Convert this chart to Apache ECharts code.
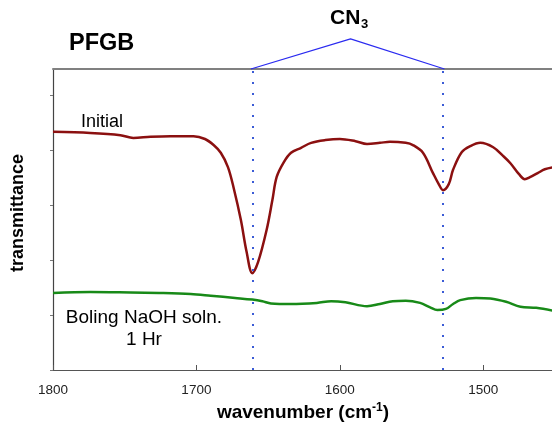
<!DOCTYPE html>
<html>
<head>
<meta charset="utf-8">
<script src="https://cdn.jsdelivr.net/npm/echarts@6/dist/echarts.min.js"></script>
<style>
  html, body { margin: 0; padding: 0; background: #fff; }
  #chart { width: 552px; height: 426px; }
</style>
</head>
<body>
<div id="chart"></div>
<script>
// IR spectra of PFGB, wavenumber (cm-1) vs transmittance (arbitrary offset units)
const wnInitial = [1800, 1774, 1753, 1744, 1732, 1718, 1702, 1694, 1688, 1683, 1678, 1674, 1669, 1665, 1661,
  1657, 1651, 1647, 1644, 1639, 1634, 1627, 1620, 1610, 1600, 1589, 1581, 1572, 1565, 1554, 1549, 1542,
  1535, 1531, 1528, 1524, 1521, 1515, 1509, 1502, 1493, 1486, 1481, 1475, 1471, 1467, 1462, 1457, 1450];
const tInitial = [4.33, 4.31, 4.27, 4.22, 4.24, 4.25, 4.25, 4.20, 4.09, 3.95, 3.69, 3.31, 2.73, 2.15, 1.76,
  1.96, 2.55, 3.09, 3.51, 3.78, 3.95, 4.04, 4.13, 4.18, 4.20, 4.16, 4.11, 4.13, 4.15, 4.13, 4.09, 3.95,
  3.58, 3.38, 3.27, 3.38, 3.64, 3.96, 4.07, 4.13, 4.05, 3.89, 3.76, 3.56, 3.47, 3.51, 3.58, 3.65, 3.69];

const wnBoiled = [1800, 1774, 1746, 1726, 1704, 1690, 1673, 1661, 1654, 1648, 1634, 1616, 1606, 1596, 1581,
  1572, 1563, 1554, 1544, 1537, 1532, 1526, 1521, 1516, 1505, 1495, 1484, 1474, 1463, 1450];
const tBoiled = [1.40, 1.42, 1.41, 1.40, 1.38, 1.35, 1.31, 1.28, 1.25, 1.21, 1.20, 1.22, 1.25, 1.23, 1.16,
  1.20, 1.25, 1.26, 1.22, 1.14, 1.09, 1.11, 1.20, 1.27, 1.31, 1.30, 1.24, 1.15, 1.13, 1.07];

// CN3 band positions and the bracket joining them above the frame
const cnBands = [1661, 1528];
const bracketWn = [1662, 1592.5, 1527];
const bracketT = [5.473, 6.02, 5.473];

// visible wavenumber window and labelled ticks
const wnRange = [1452, 1800];
const xTicks = [1800, 1700, 1600, 1500];
const yTicks = [0, 1, 2, 3, 4, 5];

const zip = (a, b) => a.map((v, i) => [v, b[i]]);

const chart = echarts.init(document.getElementById('chart'), null, { renderer: 'canvas' });

chart.setOption({
  backgroundColor: '#ffffff',
  animation: false,
  grid: { left: 53, right: 0, top: 69, bottom: 56, containLabel: false },
  xAxis: [
    {
      type: 'value', inverse: true, min: wnRange[0], max: wnRange[1],
      position: 'bottom',
      axisLine: { show: true, lineStyle: { color: '#555', width: 1.2 } },
      axisTick: { show: true, inside: true, length: 5, customValues: xTicks, lineStyle: { color: '#555' } },
      axisLabel: {
        color: '#222', fontSize: 13.5, fontFamily: 'Liberation Sans, Arial, sans-serif', margin: 13,
        customValues: xTicks, formatter: v => String(v)
      },
      splitLine: { show: false }
    },
    {
      type: 'value', inverse: true, min: wnRange[0], max: wnRange[1], position: 'top',
      axisLine: { show: true, lineStyle: { color: '#808080', width: 2 } },
      axisTick: { show: false }, axisLabel: { show: false }, splitLine: { show: false }
    }
  ],
  yAxis: {
    type: 'value', min: 0, max: 5.473,
    axisLine: { show: true, lineStyle: { color: '#444', width: 1.2 } },
    axisTick: { show: true, inside: false, length: 3, customValues: yTicks, lineStyle: { color: '#777' } },
    axisLabel: { show: false },
    splitLine: { show: false }
  },
  series: [
    {
      name: 'Initial', type: 'line', data: zip(wnInitial, tInitial), smooth: 0.35,
      showSymbol: false, lineStyle: { color: '#8b1010', width: 2.5 },
      markLine: {
        silent: true, symbol: ['none', 'none'], label: { show: false },
        lineStyle: { color: '#3b5bd6', type: [2, 9], width: 2 },
        data: cnBands.map(v => ({ xAxis: v }))
      }
    },
    {
      name: 'Boling NaOH soln. 1 Hr', type: 'line', data: zip(wnBoiled, tBoiled), smooth: 0.35,
      showSymbol: false, lineStyle: { color: '#188a18', width: 2.5 }
    },
    {
      name: 'CN3', type: 'line', data: zip(bracketWn, bracketT), clip: false,
      showSymbol: false, lineStyle: { color: '#2a2af0', width: 1.2 }, z: 5
    }
  ],
  graphic: [
    {
      type: 'text', left: 69, top: 32,
      style: { text: 'PFGB', font: 'bold 23.5px "Liberation Sans", Arial, sans-serif', fill: '#000' }
    },
    {
      type: 'text', left: 330, top: 8,
      style: { text: 'CN', font: 'bold 21px "Liberation Sans", Arial, sans-serif', fill: '#000' }
    },
    {
      type: 'text', left: 361, top: 18,
      style: { text: '3', font: 'bold 13px "Liberation Sans", Arial, sans-serif', fill: '#000' }
    },
    {
      type: 'text', left: 81, top: 113,
      style: { text: 'Initial', font: '18px "Liberation Sans", Arial, sans-serif', fill: '#000' }
    },
    {
      type: 'text', x: 144, y: 307,
      style: {
        text: 'Boling NaOH soln.\n1 Hr', align: 'center', lineHeight: 22,
        font: '19px "Liberation Sans", Arial, sans-serif', fill: '#000'
      }
    },
    {
      type: 'text', x: 18, y: 213, rotation: Math.PI / 2,
      style: {
        text: 'transmittance', align: 'center', verticalAlign: 'middle',
        font: 'bold 18px "Liberation Sans", Arial, sans-serif', fill: '#000'
      }
    },
    {
      type: 'text', x: 303, y: 413,
      style: {
        text: '{a|wavenumber (cm}{b|-1}{a|)}', align: 'center', verticalAlign: 'middle',
        rich: {
          a: { font: 'bold 19px "Liberation Sans", Arial, sans-serif', fill: '#000' },
          b: { font: 'bold 12px "Liberation Sans", Arial, sans-serif', fill: '#000', padding: [0, 0, 10, 0] }
        }
      }
    }
  ]
});
</script>
</body>
</html>
